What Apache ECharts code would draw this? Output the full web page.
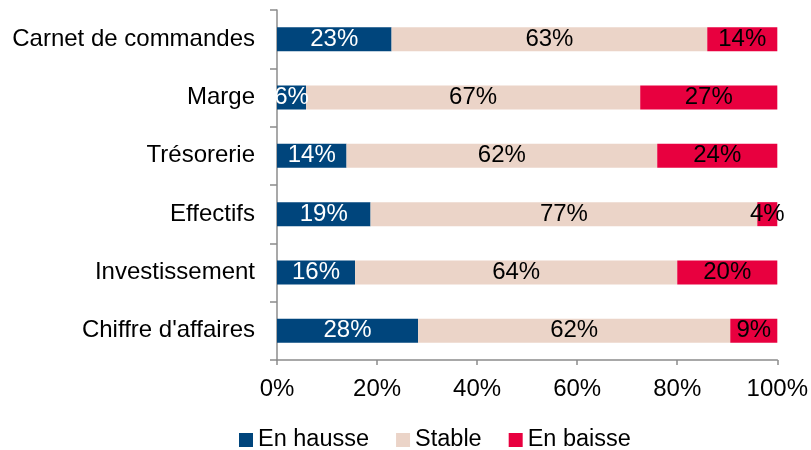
<!DOCTYPE html>
<html>
<head>
<meta charset="utf-8">
<script src="https://cdn.jsdelivr.net/npm/echarts@6/dist/echarts.min.js"></script>
<style>
    html, body { margin: 0; padding: 0; background: #fff; }
    #chart { width: 811px; height: 450px; }
</style>
</head>
<body>
<div id="chart"></div>
<script>
// 类别（从上到下）
const categories = ['Carnet de commandes', 'Marge', 'Trésorerie', 'Effectifs', 'Investissement', "Chiffre d'affaires"];
const xTicks = [0, 20, 40, 60, 80, 100];

// 各系列（%）
const hausse = [22.9, 5.8, 13.9, 18.7, 15.6, 28.2];
const stable = [63.1, 66.8, 62.1, 77.3, 64.4, 62.4];
const baisse = [14.0, 27.4, 24.0, 4.0, 20.0, 9.4];

const colors = ['#00457c', '#ebd4c8', '#e8003f'];
const font = 'Liberation Sans, Arial, sans-serif';
const fs = 24;

const chart = echarts.init(document.getElementById('chart'));

function makeSeries(name, data, color, labelColor) {
    return {
        name: name,
        type: 'bar',
        stack: 'total',
        data: data,
        barWidth: 24,
        itemStyle: { color: color },
        label: {
            show: true,
            position: 'inside',
            formatter: p => Math.round(p.value) + '%',
            color: labelColor,
            fontFamily: font,
            fontSize: fs
        },
        emphasis: { disabled: true }
    };
}

chart.setOption({
    animation: false,
    grid: { left: 277, right: 30, top: 10, bottom: 90, containLabel: false },
    legend: {
        left: 239,
        top: 428,
        padding: 0,
        itemWidth: 14,
        itemHeight: 14,
        itemGap: 27,
        icon: 'rect',
        textStyle: { fontFamily: font, fontSize: 23.5, color: '#000' },
        data: ['En hausse', 'Stable', 'En baisse']
    },
    xAxis: {
        type: 'value',
        min: 0,
        max: 100,
        interval: 20,
        axisLine: { show: true, lineStyle: { color: '#8c8c8c', width: 1.5 } },
        axisTick: { show: true, length: 5, lineStyle: { color: '#8c8c8c', width: 1.5 } },
        splitLine: { show: false },
        axisLabel: {
            margin: 17,
            color: '#000',
            fontFamily: font,
            fontSize: fs,
            formatter: v => xTicks.includes(v) ? v + '%' : ''
        }
    },
    yAxis: {
        type: 'category',
        inverse: true,
        data: categories,
        axisLine: { show: true, lineStyle: { color: '#8c8c8c', width: 1.5 } },
        axisTick: { show: true, length: 7, lineStyle: { color: '#8c8c8c', width: 1.5 } },
        axisLabel: {
            margin: 22,
            color: '#000',
            fontFamily: font,
            fontSize: fs
        }
    },
    series: [
        makeSeries('En hausse', hausse, colors[0], '#fff'),
        makeSeries('Stable', stable, colors[1], '#000'),
        makeSeries('En baisse', baisse, colors[2], '#000')
    ]
});
</script>
</body>
</html>
